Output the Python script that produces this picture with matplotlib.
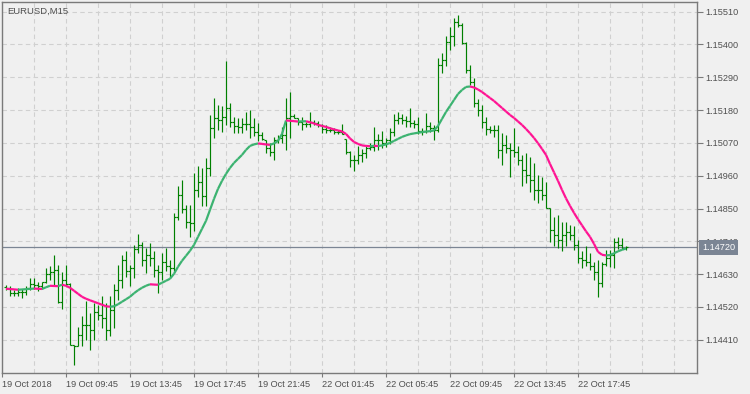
import numpy as np
import matplotlib.pyplot as plt
import matplotlib.transforms as mtransforms
from matplotlib.collections import LineCollection

plt.rcParams['font.family'] = ['Liberation Sans', 'DejaVu Sans']

symbol = "EURUSD,M15"

# OHLC in points (1 point = 0.00001), one bar per 15 minutes
opens_pt = [
    114588, 114584, 114567, 114567, 114571, 114571, 114584, 114598, 114594, 114591,
    114603, 114631, 114638, 114645, 114538, 114611, 114598, 114393, 114390, 114427,
    114460, 114460, 114444, 114504, 114494, 114484, 114444, 114511, 114578, 114611,
    114678, 114641, 114651, 114715, 114728, 114678, 114695, 114685, 114645, 114638,
    114671, 114658, 114651, 114822, 114896, 114849, 114805, 114802, 114913, 114939,
    114892, 114986, 115120, 115154, 115147, 115157, 115187, 115140, 115127, 115124,
    115134, 115134, 115124, 115107, 115097, 115080, 115053, 115040, 115080, 115087,
    115097, 115154, 115160, 115153, 115140, 115134, 115134, 115140, 115137, 115130,
    115117, 115114, 115114, 115107, 115107, 115083, 115040, 115013, 115013, 115030,
    115036, 115053, 115057, 115080, 115080, 115070, 115080, 115107, 115147, 115154,
    115147, 115144, 115137, 115134, 115110, 115110, 115127, 115120, 115114, 115331,
    115348, 115408, 115428, 115475, 115465, 115405, 115315, 115274, 115204, 115181,
    115140, 115117, 115114, 115114, 115047, 115063, 115053, 115047, 115040, 115013,
    114980, 114963, 114946, 114913, 114913, 114896, 114851, 114779, 114762, 114745,
    114762, 114772, 114762, 114728, 114685, 114678, 114671, 114658, 114638, 114601,
    114665, 114685, 114695, 114738, 114728, 114718,
]
highs_pt = [
    114592, 114589, 114578, 114583, 114580, 114589, 114617, 114617, 114605, 114605,
    114650, 114656, 114695, 114661, 114637, 114661, 114600, 114393, 114452, 114488,
    114541, 114501, 114533, 114527, 114555, 114533, 114555, 114598, 114661, 114695,
    114706, 114661, 114728, 114765, 114739, 114717, 114734, 114708, 114661, 114700,
    114717, 114678, 114834, 114924, 114946, 114862, 114862, 114968, 114993, 114985,
    115019, 115164, 115220, 115197, 115194, 115345, 115203, 115158, 115153, 115153,
    115175, 115181, 115154, 115137, 115108, 115080, 115070, 115090, 115097, 115124,
    115220, 115242, 115167, 115153, 115157, 115141, 115174, 115147, 115145, 115134,
    115130, 115125, 115119, 115114, 115134, 115083, 115043, 115030, 115060, 115050,
    115060, 115069, 115125, 115100, 115110, 115087, 115119, 115167, 115175, 115167,
    115160, 115186, 115147, 115158, 115119, 115169, 115141, 115130, 115356, 115370,
    115430, 115460, 115488, 115499, 115471, 115409, 115331, 115289, 115217, 115197,
    115158, 115127, 115130, 115130, 115102, 115097, 115069, 115119, 115058, 115028,
    115035, 115024, 115002, 114963, 114957, 114940, 114851, 114823, 114829, 114806,
    114806, 114795, 114790, 114745, 114706, 114723, 114700, 114672, 114678, 114672,
    114712, 114712, 114751, 114756, 114752, 114723,
]
lows_pt = [
    114578, 114555, 114555, 114557, 114550, 114561, 114578, 114580, 114572, 114580,
    114600, 114611, 114594, 114533, 114513, 114594, 114393, 114324, 114388, 114390,
    114410, 114377, 114410, 114477, 114450, 114410, 114421, 114449, 114544, 114584,
    114621, 114589, 114617, 114702, 114656, 114633, 114656, 114622, 114566, 114611,
    114639, 114622, 114639, 114812, 114834, 114784, 114756, 114773, 114890, 114857,
    114857, 114959, 115086, 115114, 115108, 115130, 115125, 115102, 115102, 115102,
    115114, 115088, 115093, 115077, 115080, 115036, 115026, 115013, 115069, 115069,
    115047, 115086, 115153, 115130, 115114, 115125, 115124, 115130, 115124, 115103,
    115102, 115107, 115100, 115100, 115100, 115033, 114990, 114976, 115000, 115006,
    115020, 115047, 115043, 115047, 115053, 115057, 115067, 115093, 115134, 115134,
    115124, 115125, 115120, 115100, 115097, 115102, 115108, 115080, 115108, 115305,
    115328, 115382, 115395, 115457, 115402, 115306, 115264, 115192, 115160, 115119,
    115097, 115103, 115090, 115019, 114996, 115035, 114957, 115024, 114996, 114924,
    114936, 114907, 114879, 114868, 114879, 114851, 114739, 114723, 114717, 114706,
    114723, 114745, 114712, 114667, 114650, 114656, 114645, 114611, 114554, 114588,
    114656, 114653, 114650, 114715, 114715, 114712,
]
closes_pt = [
    114584, 114567, 114567, 114571, 114571, 114584, 114598, 114594, 114591, 114603,
    114631, 114638, 114645, 114538, 114611, 114598, 114393, 114390, 114427, 114460,
    114460, 114444, 114504, 114494, 114484, 114444, 114511, 114578, 114611, 114678,
    114641, 114651, 114715, 114728, 114678, 114695, 114685, 114645, 114638, 114671,
    114658, 114651, 114822, 114896, 114849, 114805, 114802, 114913, 114939, 114892,
    114986, 115120, 115154, 115147, 115157, 115187, 115140, 115127, 115124, 115134,
    115134, 115124, 115107, 115097, 115083, 115053, 115040, 115080, 115087, 115097,
    115154, 115160, 115154, 115140, 115134, 115134, 115140, 115137, 115130, 115117,
    115114, 115114, 115107, 115107, 115100, 115040, 115013, 115013, 115030, 115036,
    115053, 115057, 115080, 115080, 115070, 115080, 115107, 115147, 115154, 115147,
    115144, 115137, 115134, 115110, 115110, 115127, 115120, 115114, 115331, 115348,
    115408, 115428, 115475, 115465, 115405, 115315, 115274, 115204, 115181, 115140,
    115117, 115114, 115114, 115047, 115063, 115053, 115047, 115040, 115013, 114980,
    114963, 114946, 114913, 114913, 114896, 114852, 114779, 114762, 114745, 114762,
    114772, 114762, 114728, 114685, 114678, 114671, 114658, 114638, 114601, 114665,
    114685, 114695, 114738, 114728, 114718, 114720,
]

# smoothed moving average, one value per bar
ma_values = [
    1.145809, 1.145798, 1.145788, 1.145775, 1.145785, 1.145795, 1.145805, 1.145815, 1.145809, 1.145802,
    1.145859, 1.145909, 1.145902, 1.145896, 1.145943, 1.145909, 1.145842, 1.145742, 1.145641, 1.145541,
    1.145474, 1.145423, 1.145373, 1.145323, 1.145273, 1.145222, 1.145206, 1.145222, 1.145289, 1.145373,
    1.145457, 1.145541, 1.145658, 1.145758, 1.145842, 1.145909, 1.145959, 1.145949, 1.145943, 1.146010,
    1.146077, 1.146144, 1.146311, 1.146546, 1.146747, 1.146914, 1.147082, 1.147283, 1.147551, 1.147819,
    1.148087, 1.148455, 1.148824, 1.149159, 1.149427, 1.149661, 1.149862, 1.150030, 1.150164, 1.150298,
    1.150465, 1.150599, 1.150649, 1.150683, 1.150666, 1.150649, 1.150633, 1.150683, 1.150767, 1.151001,
    1.151453, 1.151443, 1.151430, 1.151416, 1.151423, 1.151426, 1.151393, 1.151353, 1.151303, 1.151269,
    1.151236, 1.151192, 1.151152, 1.151118, 1.151085, 1.151001, 1.150850, 1.150733, 1.150666, 1.150616,
    1.150599, 1.150589, 1.150602, 1.150596, 1.150616, 1.150649, 1.150700, 1.150767, 1.150834, 1.150901,
    1.150951, 1.150994, 1.151018, 1.151041, 1.151061, 1.151078, 1.151095, 1.151118, 1.151269, 1.151504,
    1.151738, 1.151939, 1.152140, 1.152341, 1.152475, 1.152576, 1.152592, 1.152559, 1.152492, 1.152408,
    1.152308, 1.152207, 1.152107, 1.151989, 1.151872, 1.151755, 1.151638, 1.151537, 1.151420, 1.151303,
    1.151169, 1.151024, 1.150867, 1.150689, 1.150499, 1.150298, 1.149996, 1.149711, 1.149427, 1.149125,
    1.148840, 1.148589, 1.148355, 1.148137, 1.147936, 1.147735, 1.147551, 1.147316, 1.147048, 1.146948,
    1.146927, 1.146937, 1.146998, 1.147065, 1.147115, 1.147159,
]

last_price = 1.14720
price_ticks = [1.15510, 1.15400, 1.15290, 1.15180, 1.15070, 1.14960,
               1.14850, 1.14740, 1.14630, 1.14520, 1.14410]
time_tick_bars = [0, 16, 32, 48, 64, 80, 96, 112, 128, 144]
time_labels = ["19 Oct 2018", "19 Oct 09:45", "19 Oct 13:45", "19 Oct 17:45",
               "19 Oct 21:45", "22 Oct 01:45", "22 Oct 05:45", "22 Oct 09:45",
               "22 Oct 13:45", "22 Oct 17:45"]

opens = np.array(opens_pt) / 1e5
highs = np.array(highs_pt) / 1e5
lows = np.array(lows_pt) / 1e5
closes = np.array(closes_pt) / 1e5
ma = np.array(ma_values)
x = np.arange(1, len(closes) + 1)

bg = '#f0f0f0'
text_col = '#505050'
frame_col = '#7a7a7a'

fig = plt.figure(figsize=(7.5, 3.94), dpi=100, facecolor=bg)
ax = fig.add_axes([2 / 750, (394 - 373) / 394, 695 / 750, 371 / 394])
ax.set_facecolor(bg)
ax.set_xlim(0, 173.75)
ax.set_ylim(1.142984, 1.155425)

# dashed grid
for p in price_ticks:
    ax.axhline(p, color='#d0d0d0', lw=0.8, ls=(0, (4, 3)), zorder=0)
for gx in np.arange(8, 174, 8):
    ax.axvline(gx, color='#d0d0d0', lw=0.8, ls=(0, (4, 3)), zorder=0)

# current price line
ax.axhline(last_price, color='#7b8594', lw=0.9, zorder=1)

# OHLC bars
tick = 0.45
segs = []
for xi, o, h, l, c in zip(x, opens, highs, lows, closes):
    segs.append([(xi, l), (xi, h)])
    segs.append([(xi - tick, o), (xi, o)])
    segs.append([(xi, c), (xi + tick, c)])
ax.add_collection(LineCollection(segs, colors='#008000', linewidths=0.85, zorder=2))

# moving average, coloured by slope
pts = np.column_stack([x, ma])
ma_segs = np.stack([pts[:-1], pts[1:]], axis=1)
cols = ['#ff1493' if b < a else '#3cb371' for a, b in zip(ma[:-1], ma[1:])]
ax.add_collection(LineCollection(ma_segs, colors=cols, linewidths=1.6,
                                 capstyle='butt', zorder=3))

# axes frame and ticks
for s in ax.spines.values():
    s.set_color(frame_col)
    s.set_linewidth(1.0)
ax.yaxis.tick_right()
ax.set_yticks(price_ticks)
ax.set_yticklabels([f"{p:.5f}" for p in price_ticks])
ax.set_xticks(time_tick_bars)
ax.set_xticklabels(time_labels, ha='left')
ax.tick_params(axis='y', direction='out', length=4, width=0.8, color=frame_col,
               labelsize=6.6, labelcolor=text_col, pad=2)
ax.tick_params(axis='x', direction='out', length=3, width=0.8, color=frame_col,
               labelsize=6.6, labelcolor=text_col, pad=2)

ax.text(0.007, 0.988, symbol, transform=ax.transAxes, ha='left', va='top',
        fontsize=6.8, color=text_col)

# price label on the right axis (covers the 1.14740 label as in MT4)
trans = mtransforms.blended_transform_factory(ax.transAxes, ax.transData)
ax.text(1.0 + 5 / 695, last_price, f"{last_price:.5f}", transform=trans,
        ha='left', va='center', fontsize=6.6, color='white', clip_on=False,
        zorder=5, bbox=dict(boxstyle='square,pad=0.3', fc='#7b8594', ec='none'))

fig.savefig('out.png', dpi=100, facecolor=bg)
